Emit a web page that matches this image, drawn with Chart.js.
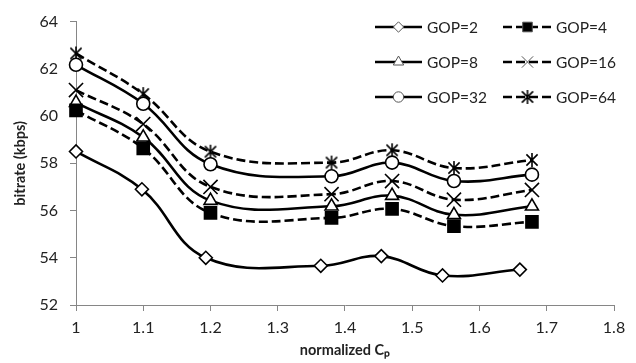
<!DOCTYPE html>
<html>
<head>
<meta charset="utf-8">
<script src="https://cdn.jsdelivr.net/npm/chart.js@4.4.1/dist/chart.umd.min.js"></script>
<style>
html,body{margin:0;padding:0;background:#fff;}
#wrap{width:636px;height:363px;position:relative;}
</style>
</head>
<body>
<div id="wrap"><canvas id="c" width="636" height="363"></canvas></div>
<script>
// ---- data ----
const seriesNames = ['GOP=2', 'GOP=4', 'GOP=8', 'GOP=16', 'GOP=32', 'GOP=64'];
const xGop2 = [1.0, 1.098, 1.193, 1.364, 1.454, 1.545, 1.66];
const xOther = [1.0, 1.1, 1.2, 1.38, 1.47, 1.562, 1.678];
const gop2  = [58.50, 56.90, 54.00, 53.66, 54.07, 53.25, 53.50];
const gop4  = [60.24, 58.63, 55.90, 55.69, 56.07, 55.34, 55.52];
const gop8  = [60.57, 59.10, 56.42, 56.18, 56.63, 55.82, 56.18];
const gop16 = [61.10, 59.66, 57.00, 56.69, 57.25, 56.46, 56.87];
const gop32 = [62.17, 60.52, 57.96, 57.45, 58.03, 57.25, 57.52];
const gop64 = [62.65, 60.93, 58.49, 58.03, 58.55, 57.80, 58.14];
const xTickLabels = ['1', '1.1', '1.2', '1.3', '1.4', '1.5', '1.6', '1.7', '1.8'];
const yTickLabels = ['52', '54', '56', '58', '60', '62', '64'];

// asterisk marker (X with vertical bar), like the spreadsheet "star" marker
function makeAsterisk(size) {
  const cv = document.createElement('canvas');
  cv.width = size; cv.height = size;
  const g = cv.getContext('2d');
  g.strokeStyle = '#000'; g.lineWidth = 1.6;
  const m = size / 2, r = size / 2 - 1;
  g.beginPath();
  g.moveTo(m - r * 0.8, m - r * 0.8); g.lineTo(m + r * 0.8, m + r * 0.8);
  g.moveTo(m + r * 0.8, m - r * 0.8); g.lineTo(m - r * 0.8, m + r * 0.8);
  g.moveTo(m, m - r); g.lineTo(m, m + r);
  g.stroke();
  return cv;
}
const asterisk = makeAsterisk(16);

const toPts = (xs, ys) => ys.map((y, i) => ({x: xs[i], y: y}));

const styles = [
  {data: toPts(xGop2, gop2),  dash: [],    point: 'rectRot',  r: 6.5, fill: '#fff'},
  {data: toPts(xOther, gop4), dash: [9,4], point: 'rect',     r: 8.5, fill: '#000'},
  {data: toPts(xOther, gop8), dash: [],    point: 'triangle', r: 7.5, fill: '#fff'},
  {data: toPts(xOther, gop16),dash: [9,4], point: 'crossRot', r: 10,  fill: '#fff'},
  {data: toPts(xOther, gop32),dash: [],    point: 'circle',   r: 6.5, fill: '#fff'},
  {data: toPts(xOther, gop64),dash: [9,4], point: asterisk,   r: 8,   fill: '#fff'}
];

const datasets = styles.map((s, i) => ({
  label: seriesNames[i],
  data: s.data,
  showLine: true,
  borderColor: '#000',
  borderWidth: 2.6,
  borderDash: s.dash,
  tension: 0.4,
  pointStyle: s.point,
  pointRadius: s.r,
  pointHoverRadius: s.r,
  pointBackgroundColor: s.fill,
  pointBorderColor: '#000',
  pointBorderWidth: 1.6,
  clip: false
}));

const FONT = 'Lato, "Liberation Sans", sans-serif';

const legendPlugin = {
  id: 'gridLegend',
  afterDraw(chart) {
    const ctx = chart.ctx;
    const cols = [{x0: 375, x1: 422, tx: 427}, {x0: 503, x1: 552, tx: 556}];
    const rows = [27, 62, 97];
    ctx.save();
    styles.forEach((s, i) => {
      const c = cols[i % 2], y = rows[Math.floor(i / 2)];
      ctx.strokeStyle = '#000';
      ctx.lineWidth = 2.6;
      ctx.setLineDash(s.dash);
      ctx.beginPath(); ctx.moveTo(c.x0, y); ctx.lineTo(c.x1, y); ctx.stroke();
      ctx.setLineDash([]);
      ctx.fillStyle = s.fill;
      ctx.strokeStyle = '#555';
      ctx.lineWidth = 1;
      Chart.helpers.drawPoint(ctx, {pointStyle: s.point, radius: s.r * 0.8, borderWidth: 1, rotation: 0}, (c.x0 + c.x1) / 2, y);
      ctx.fillStyle = '#222';
      ctx.font = '15.5px ' + FONT;
      ctx.textBaseline = 'middle';
      ctx.textAlign = 'left';
      ctx.fillText(seriesNames[i], c.tx, y + 1);
    });
    ctx.restore();
  }
};

new Chart(document.getElementById('c'), {
  type: 'scatter',
  data: {datasets: datasets},
  plugins: [legendPlugin],
  options: {
    responsive: false,
    animation: false,
    layout: {padding: {left: 0, right: 22, top: 15, bottom: 0}},
    plugins: {legend: {display: false}, tooltip: {enabled: false}},
    scales: {
      x: {
        type: 'linear', min: 1, max: 1.8,
        ticks: {stepSize: 0.1, padding: 7, color: '#222', font: {family: FONT, size: 16},
                callback: (v, i) => xTickLabels[i]},
        grid: {drawOnChartArea: false, drawTicks: true, tickLength: 6, color: '#868686'},
        border: {color: '#868686', width: 1},
        title: {display: true, text: 'normalized Cₚ', color: '#222',
                font: {family: FONT, size: 14.5, weight: 'bold'}, padding: {top: 4, bottom: 4}},
        afterFit: s => { s.height = 58; }
      },
      y: {
        type: 'linear', min: 52, max: 64,
        ticks: {stepSize: 2, padding: 12, color: '#222', font: {family: FONT, size: 16},
                callback: (v, i) => yTickLabels[i]},
        grid: {drawOnChartArea: false, drawTicks: true, tickLength: 6, color: '#868686'},
        border: {color: '#868686', width: 1},
        title: {display: true, text: 'bitrate (kbps)', color: '#222',
                font: {family: FONT, size: 14.5, weight: 'bold'}, padding: {top: 12, bottom: 4}},
        afterFit: s => { s.width = 76; }
      }
    }
  }
});
</script>
</body>
</html>
